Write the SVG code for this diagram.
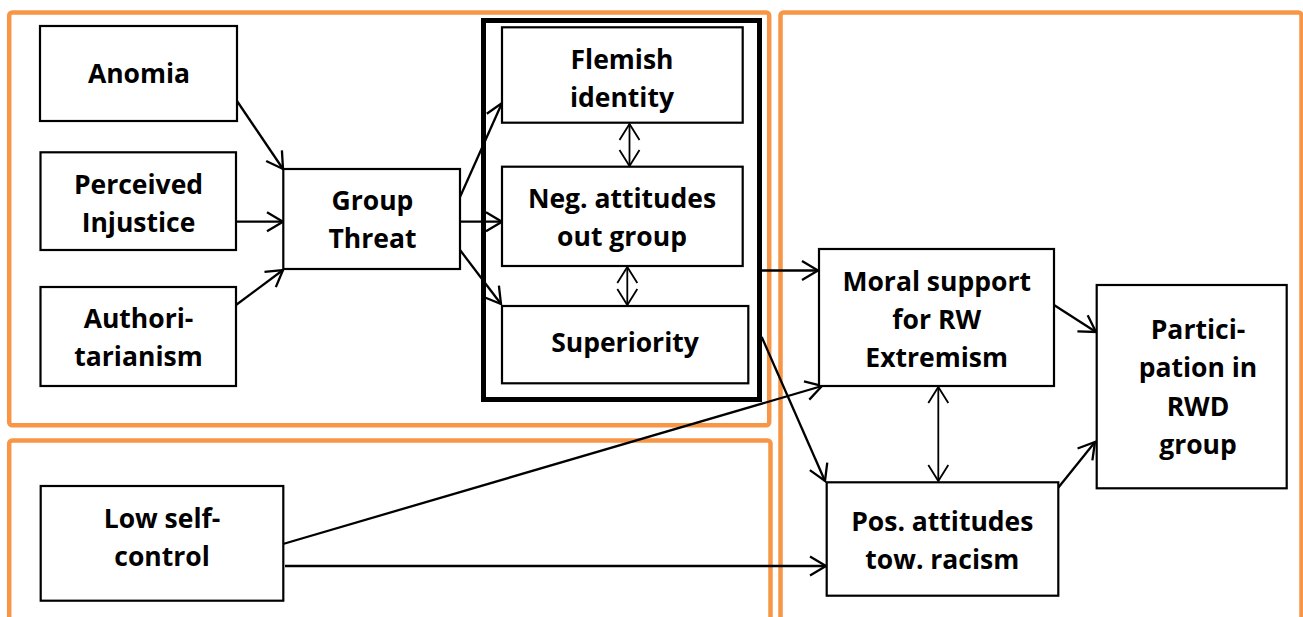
<svg xmlns="http://www.w3.org/2000/svg" width="1303" height="617" viewBox="0 0 1303 617">
  <style>
    .frame { fill: none; stroke: #F79646; stroke-width: 4.5; }
    .box { fill: #fff; stroke: #000; stroke-width: 2.2; }
    .outer { fill: none; stroke: #000; stroke-width: 5; }
    .lbl { font-family: "Open Sans", "Liberation Sans", sans-serif; font-weight: bold; font-size: 26.5px; fill: #000; text-anchor: middle; }
    .edge { fill: none; stroke: #000; stroke-width: 2.3; marker-end: url(#arr); }
    .both { fill: none; stroke: #000; stroke-width: 1.8; marker-end: url(#arrThin); marker-start: url(#arrThin); }
  </style>
  <defs>
    <marker id="arr" viewBox="-20 -12 22 24" markerWidth="22" markerHeight="24" refX="0" refY="0" orient="auto-start-reverse" markerUnits="userSpaceOnUse" overflow="visible">
      <path d="M-16,-9.5 L0,0 L-16,9.5" fill="none" stroke="#000" stroke-width="2.3"/>
    </marker>
    <marker id="arrThin" viewBox="-20 -12 22 24" markerWidth="22" markerHeight="24" refX="0" refY="0" orient="auto-start-reverse" markerUnits="userSpaceOnUse" overflow="visible">
      <path d="M-16,-10 L0,0 L-16,10" fill="none" stroke="#000" stroke-width="1.8"/>
    </marker>
  </defs>
  <rect width="1303" height="617" fill="#fff"/>

  <!-- group frames -->
  <g id="frames">
    <rect class="frame" x="9.2" y="12.5" width="760" height="412.8" rx="3"/>
    <rect class="frame" x="9.2" y="440.5" width="761.3" height="200" rx="3"/>
    <rect class="frame" x="780.5" y="12.5" width="521" height="628" rx="3"/>
  </g>

  <!-- connectors -->
  <g id="connectors">
    <line class="edge" x1="237" y1="101" x2="283" y2="169"/>
    <line class="edge" x1="236" y1="221.7" x2="283" y2="221.7"/>
    <line class="edge" x1="236" y1="305" x2="283" y2="270"/>
    <line class="edge" x1="460" y1="197" x2="502" y2="103"/>
    <line class="edge" x1="457" y1="221.7" x2="502" y2="221.7"/>
    <line class="edge" x1="460" y1="250" x2="501" y2="304"/>
    <line class="both" x1="629.5" y1="124" x2="629.5" y2="166"/>
    <line class="both" x1="627.3" y1="267" x2="627.3" y2="305"/>
    <line class="edge" x1="762" y1="270.5" x2="818" y2="270.5"/>
    <line class="edge" x1="761.7" y1="337" x2="825" y2="481"/>
    <line class="edge" x1="283" y1="544" x2="822" y2="386"/>
    <line class="edge" x1="285" y1="566" x2="826" y2="566"/>
    <line class="both" x1="938.3" y1="387" x2="938.3" y2="481"/>
    <line class="edge" x1="1054" y1="305" x2="1096" y2="332"/>
    <line class="edge" x1="1058" y1="488" x2="1095" y2="442"/>
  </g>

  <!-- nodes -->
  <g id="anomia">
    <rect class="box" x="40" y="26" width="197" height="95"/>
    <text class="lbl" x="139" y="82.5">Anomia</text>
  </g>
  <g id="perceived-injustice">
    <rect class="box" x="40.5" y="152.3" width="195.5" height="97.7"/>
    <text class="lbl" x="138.5" y="193.5">Perceived</text>
    <text class="lbl" x="138.5" y="232">Injustice</text>
  </g>
  <g id="authoritarianism">
    <rect class="box" x="40.5" y="287" width="195.5" height="99"/>
    <text class="lbl" x="138.5" y="327.5">Authori-</text>
    <text class="lbl" x="138.5" y="365.5">tarianism</text>
  </g>
  <g id="group-threat">
    <rect class="box" x="283.3" y="169" width="176.7" height="100"/>
    <text class="lbl" x="372.5" y="209.5">Group</text>
    <text class="lbl" x="372.5" y="247.5">Threat</text>
  </g>

  <g id="outgroup-block">
    <rect class="outer" x="483.5" y="20.5" width="276" height="379"/>
  </g>
  <g id="flemish-identity">
    <rect class="box" x="502" y="27.3" width="240.7" height="95.4"/>
    <text class="lbl" x="622" y="68.8">Flemish</text>
    <text class="lbl" x="622" y="107">identity</text>
  </g>
  <g id="neg-attitudes">
    <rect class="box" x="502" y="166.7" width="240.7" height="99.3"/>
    <text class="lbl" x="622" y="207.5">Neg. attitudes</text>
    <text class="lbl" x="622" y="246">out group</text>
  </g>
  <g id="superiority">
    <rect class="box" x="502" y="306" width="246.3" height="77.3"/>
    <text class="lbl" x="625" y="352.2">Superiority</text>
  </g>

  <g id="low-self-control">
    <rect class="box" x="40.7" y="486" width="242.6" height="114.7"/>
    <text class="lbl" x="162" y="528.2">Low self-</text>
    <text class="lbl" x="162" y="566.2">control</text>
  </g>

  <g id="moral-support">
    <rect class="box" x="819" y="249" width="235" height="137"/>
    <text class="lbl" x="936.7" y="290.5">Moral support</text>
    <text class="lbl" x="936.7" y="328.8">for RW</text>
    <text class="lbl" x="936.7" y="367.2">Extremism</text>
  </g>
  <g id="pos-attitudes">
    <rect class="box" x="826.7" y="482.3" width="231.6" height="113.4"/>
    <text class="lbl" x="942.3" y="530.5">Pos. attitudes</text>
    <text class="lbl" x="942.3" y="568.8">tow. racism</text>
  </g>
  <g id="participation">
    <rect class="box" x="1096.7" y="285" width="190" height="203.3"/>
    <text class="lbl" x="1198" y="338.8">Partici-</text>
    <text class="lbl" x="1198" y="377.2">pation in</text>
    <text class="lbl" x="1198" y="415.5">RWD</text>
    <text class="lbl" x="1198" y="453.8">group</text>
  </g>
</svg>
